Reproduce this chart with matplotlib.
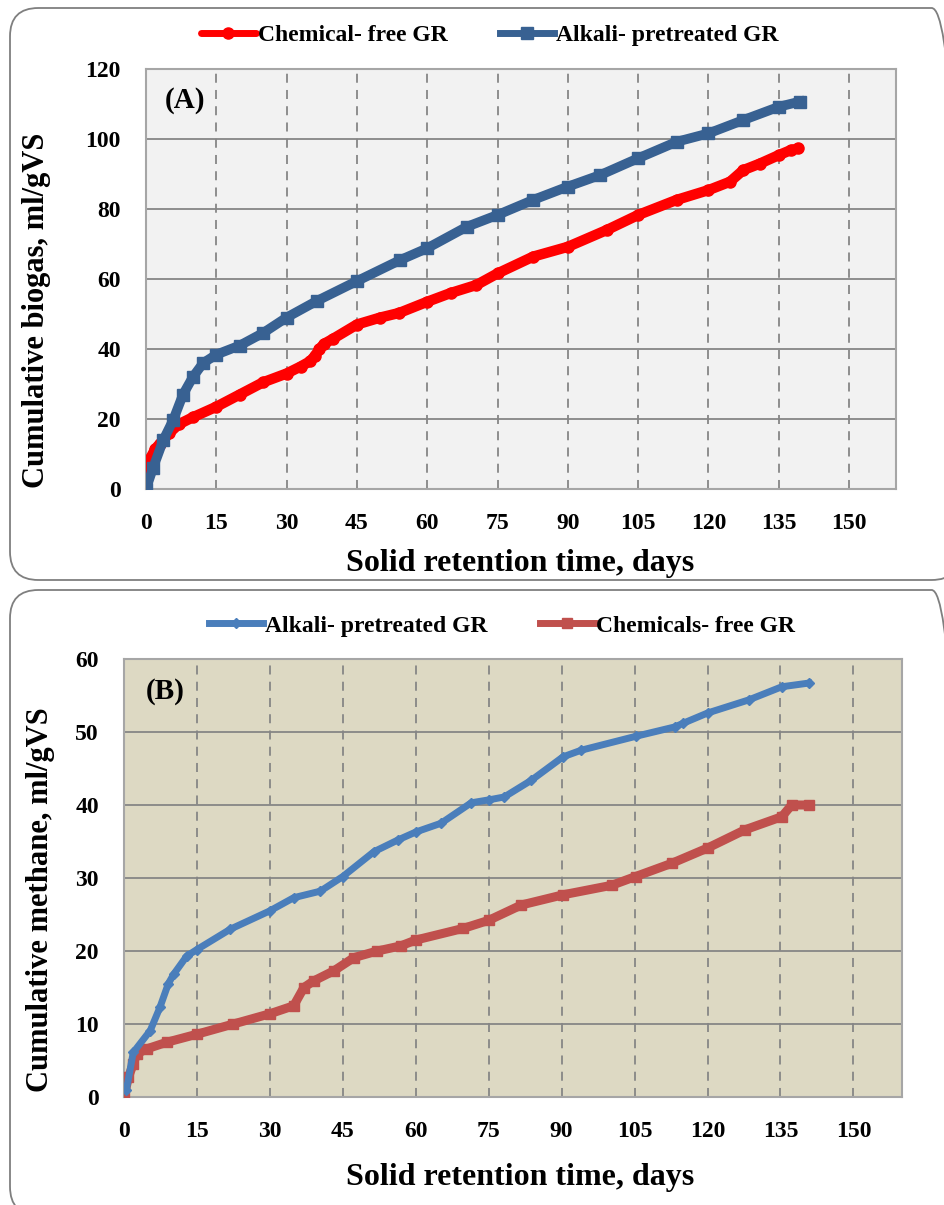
import matplotlib
matplotlib.use("Agg")
import matplotlib.pyplot as plt
from matplotlib.patches import FancyBboxPatch

plt.rcParams['font.family'] = ['Liberation Serif', 'DejaVu Serif']
plt.rcParams['font.weight'] = 'bold'

# Panel A - cumulative biogas (ml/gVS)
days_a_free = [0.3, 1, 2, 3, 5, 7, 10, 15, 20, 25, 30, 33, 35, 36, 37, 38, 40, 45, 50, 54, 60,
               65, 70.5, 75, 82.6, 90, 98.3, 105, 113.2, 120, 124.6, 127.4, 131, 135, 137.5, 139.2]
biogas_free = [5.4, 9, 11.5, 13, 16, 18.5, 20.5, 23.5, 27, 30.5, 33, 35, 36.5, 38, 40, 41.5, 43,
               47, 49, 50.3, 53.5, 56, 58.3, 61.6, 66.4, 69.2, 74, 78.3, 82.6, 85.4, 87.8, 91.1,
               93, 95.4, 96.8, 97.3]

days_a_alk = [0, 1.5, 3.7, 5.8, 7.9, 10, 12.2, 15, 20, 25, 30, 36.4, 45, 54.2, 60, 68.4, 75,
              82.6, 90, 96.9, 105, 113.2, 120, 127.4, 135, 139.5]
biogas_alk = [0, 6, 14, 19.7, 27, 32, 36, 38.4, 41, 44.6, 49, 53.7, 59.4, 65.4, 68.8, 74.9, 78.3,
              82.6, 86.4, 89.7, 94.5, 99.2, 101.6, 105.4, 109.2, 110.7]

# Panel B - cumulative methane (ml/gVS)
days_b_alk = [0.5, 1.9, 5.4, 7.4, 9.1, 10.2, 12.9, 15, 21.9, 30, 34.9, 40.4, 45, 51.4, 56.3, 60,
              65.2, 71.4, 75, 78.2, 83.8, 90.3, 94, 105.2, 113.3, 115, 120, 128.5, 135.3, 140.8]
methane_alk = [1, 6.1, 9.1, 12.3, 15.5, 16.8, 19.3, 20.2, 23, 25.5, 27.3, 28.2, 30.2, 33.6, 35.2,
               36.3, 37.5, 40.3, 40.7, 41.1, 43.4, 46.6, 47.5, 49.4, 50.7, 51.2, 52.6, 54.4,
               56.2, 56.7]

days_b_free = [0, 0.9, 1.9, 2.6, 4.7, 8.8, 15, 22.5, 30, 34.9, 37, 39, 43.2, 47.3, 52.1, 56.9,
               60, 69.8, 75, 81.7, 90.3, 100.3, 105.2, 112.6, 120, 127.7, 135.3, 137.3, 140.8]
methane_free = [0, 2.7, 4.5, 5.9, 6.6, 7.5, 8.6, 10, 11.4, 12.5, 15, 15.9, 17.3, 19.1, 20, 20.7,
                21.5, 23.1, 24.2, 26.3, 27.7, 29, 30.2, 32, 34.1, 36.6, 38.4, 40, 40]

W, H = 945, 1205
fig = plt.figure(figsize=(W / 100, H / 100), dpi=100)

# rounded panel frames
for y0, y1 in [(8, 580), (590, 1215)]:
    box = FancyBboxPatch((10 / W, 1 - y1 / H), 950 / W, (y1 - y0) / H,
                         boxstyle="round,pad=0,rounding_size=0.03",
                         transform=fig.transFigure, facecolor='none',
                         edgecolor='#7f7f7f', linewidth=1.3, mutation_aspect=W / H)
    fig.patches.append(box)


def style_axes(ax, bg, ymax, ystep):
    ax.set_facecolor(bg)
    ax.set_xlim(0, 160)
    ax.set_ylim(0, ymax)
    ax.set_xticks(range(0, 151, 15))
    ax.set_yticks(range(0, ymax + 1, ystep))
    ax.grid(axis='y', color='#868686', linewidth=1.3, linestyle='-')
    ax.grid(axis='x', color='#868686', linewidth=1.3, linestyle=(0, (5, 4)))
    ax.set_axisbelow(True)
    for s in ax.spines.values():
        s.set_color('#a6a6a6')
        s.set_linewidth(1.5)
    ax.tick_params(axis='x', length=0, labelsize=17, pad=17)
    ax.tick_params(axis='y', length=0, labelsize=17, pad=18)
    for lab in ax.get_xticklabels() + ax.get_yticklabels():
        lab.set_fontweight('bold')


# ---- Panel A
axA = fig.add_axes([146 / W, 1 - 489 / H, 750 / W, 420 / H])
style_axes(axA, '#f2f2f2', 120, 20)
axA.plot(days_a_free, biogas_free, color='#ff0000', lw=7.5, marker='o', ms=8,
         solid_capstyle='round', label='Chemical- free GR', zorder=3)
axA.plot(days_a_alk, biogas_alk, color='#386192', lw=7, marker='s', ms=8,
         label='Alkali- pretreated GR', zorder=4)
axA.text(0.025, 0.925, '(A)', transform=axA.transAxes, fontsize=21, fontweight='bold',
         va='center')
axA.set_xlabel('Solid retention time, days', fontsize=23, fontweight='bold')
axA.xaxis.set_label_coords((520 - 146) / 750, -(563 - 489) / 420)
axA.xaxis.label.set_va('center')
axA.set_ylabel('Cumulative biogas, ml/gVS', fontsize=22, fontweight='bold')
axA.yaxis.set_label_coords(-(146 - 37) / 750, (489 - 310) / 420)
axA.yaxis.label.set_va('center')
legA = axA.legend(loc='center', bbox_to_anchor=((490 - 146) / 750, 1 + 34 / 420),
                  ncol=2, frameon=False, handlelength=2.3, columnspacing=2.2,
                  handletextpad=0.1, prop={'weight': 'bold', 'size': 17})
for ln in legA.get_lines():
    ln.set_linewidth(5)

# ---- Panel B
axB = fig.add_axes([124 / W, 1 - 1097 / H, 778 / W, 438 / H])
style_axes(axB, '#ddd9c3', 60, 10)
axB.plot(days_b_alk, methane_alk, color='#4a7ebb', lw=5, marker='D', ms=5.5,
         label='Alkali- pretreated GR', zorder=4)
axB.plot(days_b_free, methane_free, color='#c0504d', lw=6.5, marker='s', ms=7.5,
         label='Chemicals- free GR', zorder=3)
axB.text(0.028, 0.925, '(B)', transform=axB.transAxes, fontsize=21, fontweight='bold',
         va='center')
axB.set_xlabel('Solid retention time, days', fontsize=23, fontweight='bold')
axB.xaxis.set_label_coords((520 - 124) / 778, -(1177 - 1097) / 438)
axB.xaxis.label.set_va('center')
axB.set_ylabel('Cumulative methane, ml/gVS', fontsize=22, fontweight='bold')
axB.yaxis.set_label_coords(-(124 - 41) / 778, (1097 - 900) / 438)
axB.yaxis.label.set_va('center')
legB = axB.legend(loc='center', bbox_to_anchor=((502 - 124) / 778, 1 + 33 / 438),
                  ncol=2, frameon=False, handlelength=2.3, columnspacing=2.2,
                  handletextpad=0.1, prop={'weight': 'bold', 'size': 17})
for ln in legB.get_lines():
    ln.set_linewidth(5)

fig.savefig('out.png', dpi=100)
